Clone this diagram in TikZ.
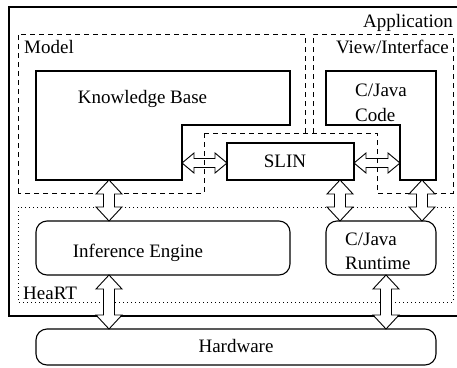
\documentclass[tikz,border=0pt]{standalone}
\usepackage{fontspec}
\setmainfont{Liberation Serif}
\newfontfamily\diafont{Liberation Serif}
\usetikzlibrary{calc}
\tikzset{
  fat/.style n args={3}{draw, fill=white, line width=0.9pt, line join=miter,
    to path={
      -- ($(\tikztostart)!#1!(\tikztotarget)!#2!90:(\tikztotarget)$)
      -- ($(\tikztostart)!#1!(\tikztotarget)!#3!90:(\tikztotarget)$)
      -- ($(\tikztotarget)!#1!(\tikztostart)!#3!-90:(\tikztostart)$)
      -- ($(\tikztotarget)!#1!(\tikztostart)!#2!-90:(\tikztostart)$)
      -- (\tikztotarget)
      -- ($(\tikztotarget)!#1!(\tikztostart)!#2!90:(\tikztostart)$)
      -- ($(\tikztotarget)!#1!(\tikztostart)!#3!90:(\tikztostart)$)
      -- ($(\tikztostart)!#1!(\tikztotarget)!#3!-90:(\tikztotarget)$)
      -- ($(\tikztostart)!#1!(\tikztotarget)!#2!-90:(\tikztotarget)$)
      -- cycle}},
  harrow/.style={fat={12pt}{10pt}{4.5pt}},
  varrow/.style={fat={14pt}{13pt}{5.5pt}},
  dashbox/.style={draw, line width=0.8pt, dash pattern=on 5pt off 4pt},
  dotbox/.style={draw, line width=0.9pt, dash pattern=on 1pt off 3pt},
  solidbox/.style={draw, line width=1.3pt},
  kbbox/.style={draw, line width=2pt},
  rbox/.style={draw, line width=1.1pt, rounded corners=11pt},
  lbl/.style={inner sep=0pt, font=\diafont\fontsize{19}{23}\selectfont},
}
\begin{document}
\begin{tikzpicture}[x=1pt, y=-1pt]
\useasboundingbox (0,0) rectangle (457,367);
\clip (0,0) rectangle (457,367);
% named end points of the connectors
\coordinate (kbE) at (182,163);
\coordinate (slW) at (227,163);
\coordinate (slE) at (354,163);
\coordinate (cdW) at (400,163);
\coordinate (kbS) at (109,180);
\coordinate (ieN) at (109,221);
\coordinate (ieS) at (109,275);
\coordinate (hw1) at (109,329);
\coordinate (slS) at (340,180);
\coordinate (rt1) at (340,221);
\coordinate (cdS) at (422,180);
\coordinate (rt2) at (422,221);
\coordinate (rtS) at (386,275);
\coordinate (hw2) at (386,329);

% application frame
\draw[line width=1.2pt] (9,7) rectangle (462,316);
\node[lbl, anchor=base east] (app) at (453,27) {Application};

% horizontal fat arrows (under the dashed lines)
\path[harrow] (kbE) to (slW);
\path[harrow] (slE) to (cdW);

% Model region
\draw[dashbox] (18,193) -- (18,34) -- (305,34) -- (305,133);
\draw[dashbox] (204,133) -- (377,133);
\draw[dashbox] (204,133) -- (204,193) -- (18,193);
\node[lbl, anchor=base west] (model) at (24,53) {Model};

% View/Interface region
\draw[dashbox] (313,133) -- (313,34) -- (453,34) -- (453,193) -- (377,193) -- (377,133);
\node[lbl, anchor=base east] (view) at (449,53) {View/Interface};

% HeaRT region
\draw[dotbox] (18,207) rectangle (453,302);
\node[lbl, anchor=base west] (heart) at (23,299) {HeaRT};

% Knowledge Base
\draw[kbbox] (36,71) -- (290,71) -- (290,125) -- (182,125) -- (182,180) -- (36,180) -- cycle;
\node[lbl, anchor=base] (kb) at (142.5,103) {Knowledge Base};

% SLIN
\draw[solidbox] (227,143) rectangle (354,180);
\node[lbl, anchor=base] (slin) at (285,167) {SLIN};

% C/Java Code
\draw[line width=1.1pt] (326,71) -- (436,71) -- (436,180) -- (400,180) -- (400,125) -- (326,125) -- cycle;
\node[lbl, anchor=base west] (code1) at (355,96) {C/Java};
\node[lbl, anchor=base west] (code2) at (355,121) {Code};

% Inference Engine
\draw[rbox] (36,221) rectangle (290,275);
\node[lbl, anchor=base] (ie) at (138,257.5) {Inference Engine};

% C/Java Runtime
\draw[rbox] (326,221) rectangle (436,275);
\node[lbl, anchor=base west] (rt1t) at (345,245) {C/Java};
\node[lbl, anchor=base west] (rt2t) at (345,269) {Runtime};

% Hardware
\draw[rbox] (36,329) rectangle (436,365);
\node[lbl, anchor=base] (hw) at (236,352) {Hardware};

% vertical fat arrows
\path[varrow] (kbS) to (ieN);
\path[varrow] (slS) to (rt1);
\path[varrow] (cdS) to (rt2);
\path[varrow] (ieS) to (hw1);
\path[varrow] (rtS) to (hw2);
\end{tikzpicture}
\end{document}
